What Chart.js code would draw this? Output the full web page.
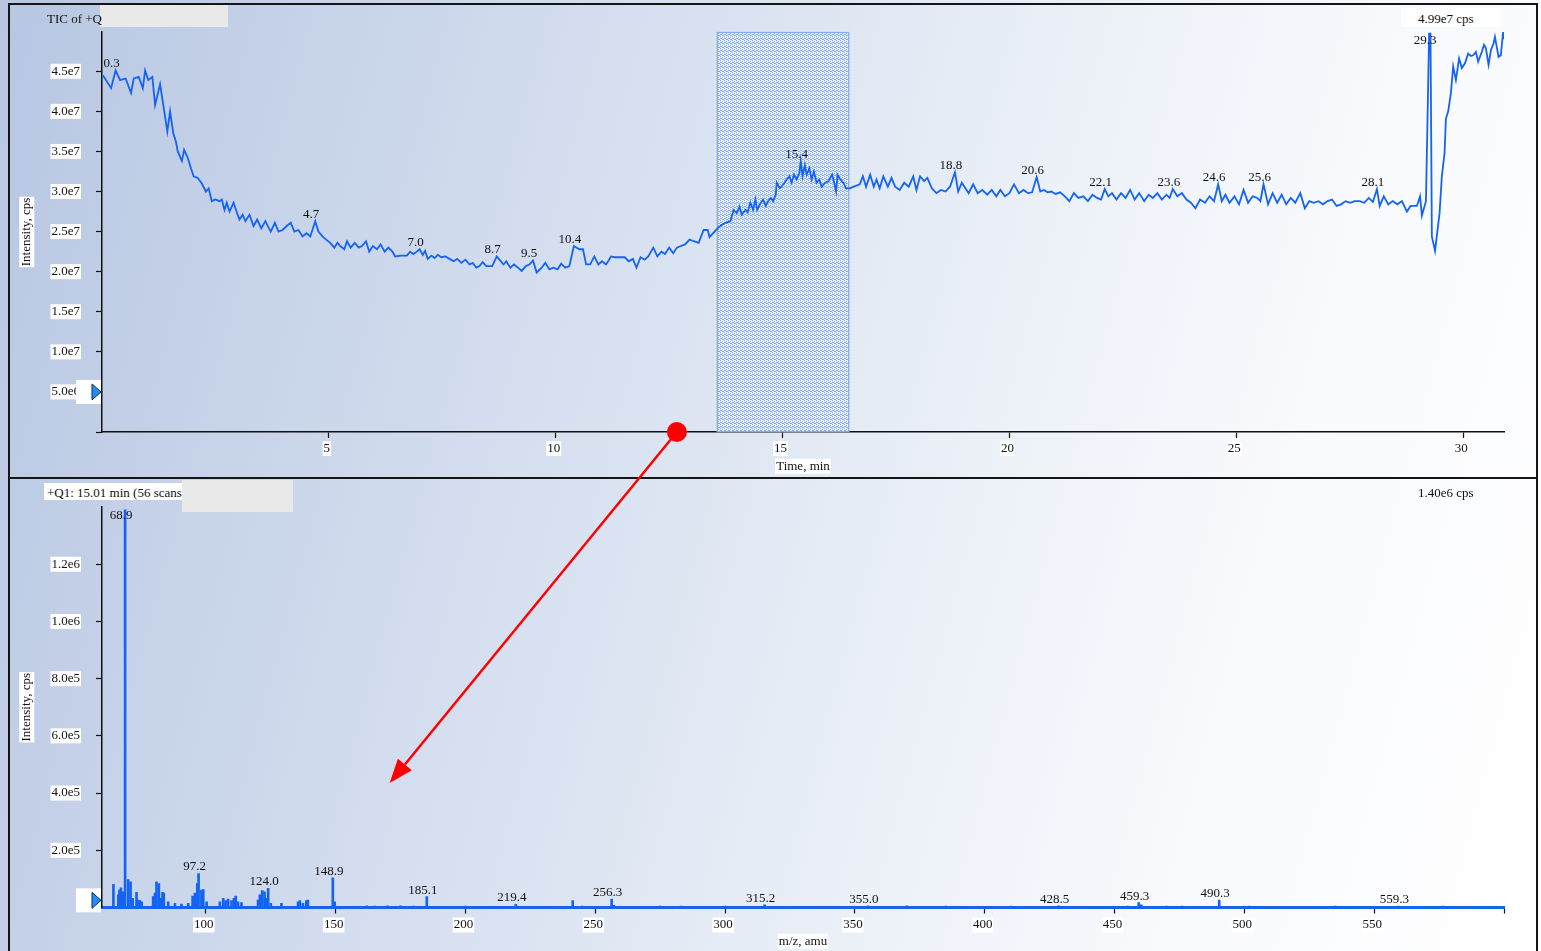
<!DOCTYPE html>
<html><head><meta charset="utf-8">
<script src="https://cdn.jsdelivr.net/npm/chart.js@4.4.1/dist/chart.umd.min.js"></script>
<style>
html,body{margin:0;padding:0;width:1541px;height:951px;overflow:hidden;}
body{position:relative;background:linear-gradient(105deg,#b7c6e1 0%,#c8d4ea 20%,#dae3f1 42%,#ecf1f8 62%,#f9fafd 80%,#ffffff 100%);font-family:"Liberation Serif",serif;}
canvas{position:absolute;left:0;}
#c1{top:0;}
#c2{top:478px;}
#ov{top:0;z-index:6;pointer-events:none;}
.ln{position:absolute;background:#151515;z-index:5;}
.txt{position:absolute;font:13px "Liberation Serif",serif;color:#111;line-height:15px;white-space:nowrap;z-index:4;}
.box{position:absolute;z-index:3;}
</style></head><body>
<canvas id="c1" width="1541" height="478"></canvas>
<canvas id="c2" width="1541" height="473"></canvas>
<canvas id="ov" width="1541" height="951"></canvas>

<div class="ln" style="left:8px;top:3px;width:1530px;height:2px"></div>
<div class="ln" style="left:8px;top:3px;width:2px;height:948px"></div>
<div class="ln" style="left:8px;top:477px;width:1530px;height:2px"></div>
<div class="ln" style="left:1536px;top:3px;width:2px;height:948px"></div>

<div class="txt" style="left:47px;top:11px">TIC of +Q</div>
<div class="box" style="left:100px;top:5px;width:128px;height:22px;background:#e9e9e9"></div>
<div class="box" style="left:1401px;top:8px;width:100px;height:19px;background:#fff"></div>
<div class="txt" style="left:1418px;top:11px">4.99e7 cps</div>

<div class="box" style="left:44px;top:483px;width:138px;height:17px;background:#fff"></div>
<div class="txt" style="left:47px;top:485px">+Q1: 15.01 min (56 scans</div>
<div class="box" style="left:182px;top:480px;width:111px;height:32px;background:#e9e9e9"></div>
<div class="txt" style="left:1418px;top:485px">1.40e6 cps</div>

<script>
// ---------------- TIC chromatogram (top) ----------------
const TIC_UNIT = 1e6; // intensities below are in 1e6 cps
const ticTime = [
0.02,0.20,0.30,0.40,0.52,0.64,0.70,0.81,0.90,0.95,1.02,1.11,1.17,1.28,1.35,1.44,1.50,1.57,1.63,1.67,
1.76,1.81,1.89,1.96,2.02,2.11,2.20,2.29,2.35,2.42,2.50,2.59,2.64,2.70,2.75,2.81,2.90,2.99,3.03,3.10,
3.16,3.25,3.34,3.42,3.51,3.60,3.68,3.72,3.81,3.89,3.98,4.07,4.16,4.24,4.33,4.42,4.51,4.59,4.70,4.77,
4.86,4.94,5.03,5.12,5.19,5.25,5.34,5.40,5.48,5.57,5.66,5.73,5.82,5.89,5.97,6.06,6.14,6.23,6.31,6.40,
6.46,6.59,6.72,6.79,6.86,6.94,7.00,7.07,7.12,7.18,7.26,7.33,7.40,7.48,7.57,7.66,7.75,7.83,7.92,8.01,
8.10,8.17,8.25,8.32,8.39,8.47,8.60,8.70,8.76,8.85,8.91,9.00,9.08,9.17,9.25,9.34,9.42,9.50,9.58,9.69,
9.77,9.86,9.95,10.04,10.12,10.21,10.30,10.40,10.52,10.60,10.67,10.76,10.85,10.94,11.02,11.11,11.22,11.30,11.43,11.52,
11.61,11.70,11.78,11.87,11.96,12.04,12.15,12.24,12.33,12.41,12.50,12.59,12.67,12.76,12.85,12.95,13.04,13.15,13.26,13.35,
13.39,13.50,13.58,13.65,13.74,13.85,13.92,13.99,14.05,14.10,14.18,14.23,14.29,14.35,14.40,14.44,14.50,14.57,14.63,14.68,
14.74,14.79,14.85,14.87,14.94,15.02,15.09,15.15,15.20,15.25,15.31,15.37,15.40,15.44,15.49,15.53,15.59,15.64,15.69,15.75,
15.81,15.86,15.94,16.01,16.09,16.12,16.18,16.21,16.27,16.34,16.40,16.48,16.57,16.70,16.77,16.84,16.93,17.01,17.07,17.14,
17.22,17.32,17.40,17.48,17.58,17.68,17.78,17.88,17.95,18.03,18.12,18.19,18.29,18.39,18.49,18.59,18.69,18.80,18.87,18.95,
19.03,19.10,19.20,19.30,19.40,19.51,19.61,19.71,19.80,19.90,20.00,20.10,20.21,20.31,20.41,20.50,20.60,20.68,20.76,20.84,
20.92,21.02,21.12,21.22,21.32,21.42,21.52,21.63,21.73,21.83,21.93,22.02,22.10,22.18,22.26,22.36,22.46,22.56,22.66,22.76,
22.86,22.97,23.07,23.16,23.26,23.36,23.46,23.53,23.60,23.70,23.80,23.90,24.00,24.10,24.20,24.31,24.41,24.51,24.60,24.68,
24.76,24.85,24.96,25.06,25.16,25.26,25.36,25.46,25.53,25.60,25.70,25.80,25.90,26.00,26.10,26.20,26.30,26.41,26.51,26.61,
26.71,26.81,26.91,27.01,27.11,27.21,27.31,27.41,27.51,27.61,27.72,27.82,27.92,28.01,28.10,28.16,28.25,28.35,28.45,28.55,
28.65,28.76,28.84,28.98,29.05,29.09,29.18,29.25,29.28,29.31,29.38,29.48,29.53,29.59,29.62,29.67,29.73,29.78,29.84,29.91,
29.97,30.04,30.11,30.17,30.22,30.28,30.33,30.41,30.46,30.50,30.56,30.61,30.67,30.70,30.78,30.83,30.88,30.90
];
const ticIntensity = [
44.5,42.9,45.1,43.9,44.1,42.3,44.1,44.3,42.9,45.1,43.9,44.3,40.8,43.4,40.8,37.5,40.0,37.3,36.2,35.0,
33.8,35.2,34.2,32.9,31.9,31.7,31.0,30.0,30.4,28.8,29.0,28.8,29.0,27.7,28.6,27.5,28.6,27.1,26.5,27.1,
26.3,27.1,25.7,26.5,25.4,26.3,25.4,25.0,26.1,25.0,25.2,25.7,26.1,25.0,25.2,24.4,24.8,24.4,26.3,25.0,
24.4,24.0,23.6,23.0,23.6,23.2,22.8,23.8,23.0,23.6,23.0,23.2,23.8,22.5,23.2,22.8,23.4,22.5,23.0,22.5,
21.9,22.0,22.0,22.5,22.2,22.5,22.8,22.1,22.6,21.6,22.0,21.7,22.1,21.8,21.9,21.6,21.3,21.6,21.1,21.5,
20.9,21.1,20.5,20.7,21.2,20.7,20.7,21.9,21.5,20.9,21.3,20.5,20.9,20.5,20.1,20.7,20.9,21.4,19.9,20.5,
21.1,20.3,20.5,20.3,21.0,20.5,20.7,23.2,22.8,22.8,20.9,20.9,21.9,20.9,21.3,20.9,21.9,21.8,21.8,21.8,
21.3,21.6,20.5,21.8,21.5,21.9,23.0,21.9,22.5,22.2,23.0,22.3,23.0,23.2,23.4,24.0,23.8,23.6,25.2,25.2,
24.3,25.0,25.5,25.8,26.1,26.3,27.7,27.3,28.1,27.1,27.7,27.4,28.6,27.7,29.0,27.7,28.4,29.0,28.2,28.8,
29.2,28.8,29.6,31.1,30.4,30.9,31.5,31.9,31.1,32.1,31.5,32.3,33.8,31.9,33.3,32.1,32.9,31.5,32.5,31.1,
31.5,30.6,31.1,31.3,32.1,31.5,30.0,32.1,31.5,31.1,30.4,30.4,30.6,30.9,31.9,30.6,32.1,30.6,31.5,30.4,
31.9,30.6,31.7,30.6,30.2,31.1,30.6,31.9,30.2,31.9,31.3,31.7,30.4,29.8,30.2,30.0,30.6,32.4,30.0,31.1,
30.4,29.8,30.9,29.8,30.2,29.6,30.2,29.4,30.2,29.4,29.8,30.9,29.8,30.2,29.8,29.9,31.8,30.0,30.2,29.9,
30.0,29.7,29.9,29.4,28.8,29.8,29.2,29.4,28.8,29.6,29.2,29.0,30.3,29.4,29.8,29.0,29.8,29.2,30.2,29.0,
29.8,28.8,29.6,29.2,29.8,29.0,29.6,29.2,30.3,29.4,29.8,29.0,28.6,27.9,29.0,28.6,29.4,28.8,30.9,28.8,
29.6,28.6,29.4,28.4,30.2,28.6,29.4,29.2,28.8,30.9,28.4,29.8,28.6,29.6,28.4,29.2,28.6,29.8,27.9,28.8,
28.6,28.8,28.4,28.8,29.0,28.2,28.4,28.8,28.6,28.8,28.8,28.6,29.2,28.7,30.3,28.2,29.4,28.4,28.8,28.4,
28.8,27.5,28.2,28.2,29.4,27.0,28.8,49.7,49.7,24.4,22.6,27.3,31.9,34.8,39.1,40.0,42.3,45.6,43.9,46.6,
45.4,46.0,47.2,46.9,47.0,47.4,46.2,47.4,48.3,47.9,45.8,47.6,48.5,49.3,46.8,47.0,49.9,49.0
];
const ticPeakLabels = [0.3,4.7,7.0,8.7,9.5,10.4,15.4,18.8,20.6,22.1,23.6,24.6,25.6,28.1,29.3];
const timeRange = [0, 30.9];
const timeTicks = [5,10,15,20,25,30];
const ticYRange = [0, 4.99e7];
const ticYTicks = [0,5e6,1e7,1.5e7,2e7,2.5e7,3e7,3.5e7,4e7,4.5e7];
const selectionRange = [13.55, 16.47];
const ticMarkerLevel = [5e6];

// ---------------- Mass spectrum (bottom) ----------------
const specMz = [
64.4,66.3,66.7,67.3,68.0,68.9,70.1,71.0,71.8,73.3,74.0,74.6,75.3,79.7,80.4,81.0,81.9,82.6,83.3,83.8,
85.5,88.1,90.6,93.2,94.9,95.8,96.7,97.2,98.3,99.0,100.3,105.4,106.7,107.6,108.6,109.9,110.8,111.5,112.4,113.7,
120.1,120.8,121.7,122.6,123.3,124.0,125.0,129.1,135.5,136.2,137.4,138.7,139.3,148.9,149.6,162,165,170,175,180,
185.1,190,200,210,219.4,230,241.3,245,256.3,257.2,265,275,283,300.0,315.2,327,355.0,370,385,395,
410,428.5,449,455,459.3,460.3,470,476,490.3,502,515,535,559.3,576.5
];
const specIntensity = [
81e3,44e3,61e3,69e3,55e3,1.39e6,98e3,90e3,32e3,53e3,26e3,24e3,20e3,38e3,50e3,90e3,84e3,32e3,53e3,50e3,
20e3,15e3,12e3,15e3,40e3,50e3,84e3,119e3,61e3,63e3,20e3,20e3,32e3,24e3,29e3,24e3,32e3,40e3,20e3,17e3,
26e3,44e3,59e3,55e3,32e3,67e3,15e3,15e3,20e3,24e3,15e3,24e3,26e3,104e3,20e3,6e3,5e3,6e3,6e3,5e3,
38e3,4e3,5e3,4e3,11e3,4e3,24e3,5e3,29e3,8e3,4e3,5e3,5e3,5e3,9e3,4e3,6e3,6e3,5e3,4e3,
5e3,6e3,4e3,5e3,17e3,9e3,5e3,5e3,26e3,5e3,4e3,5e3,5e3,5e3
];
const specPeakLabels = [68.9,97.2,124.0,148.9,185.1,219.4,256.3,315.2,355.0,428.5,459.3,490.3,559.3];
const mzRange = [60, 600];
const mzTicks = [100,150,200,250,300,350,400,450,500,550,600];
const specYRange = [0, 1.40e6];
const specYTicks = [2e5,4e5,6e5,8e5,1e6,1.2e6];
const specMarkerLevel = [2.5e4];

// red arrow: from a time on the TIC axis to a point in the spectrum
const arrowFrom = [12.67, 0];       // [min, cps] on TIC
const arrowTo = [170.8, 4.35e5];    // [m/z, cps] on spectrum

// ---------------- drawing ----------------
const INK = '#111';
const LINE_BLUE = '#1463f3';
const FONT = '"Liberation Serif", "Times New Roman", serif';
Chart.defaults.font.family = FONT;
Chart.defaults.color = INK;

function fmtExp(v){ if (v === 0) return ''; return v.toExponential(1).replace('e+','e'); }

function makePattern(){
  const p = document.createElement('canvas'); p.width = 4; p.height = 4;
  const g = p.getContext('2d');
  g.fillStyle = 'rgba(240,245,255,0.9)'; g.fillRect(0,0,4,4);
  g.fillStyle = 'rgba(110,155,240,0.9)';
  [[0,0],[2,1],[1,2],[3,3],[2,3],[0,2]].forEach(([a,b]) => g.fillRect(a,b,1,1));
  return g.createPattern(p, 'repeat');
}
const selPattern = makePattern();

const selectionPlugin = {
  id: 'selection',
  beforeDatasetsDraw(chart){
    const {ctx, chartArea, scales:{x}} = chart;
    const x0 = x.getPixelForValue(selectionRange[0]), x1 = x.getPixelForValue(selectionRange[1]);
    ctx.save();
    ctx.fillStyle = selPattern;
    ctx.fillRect(x0, chartArea.top, x1 - x0, chartArea.bottom - chartArea.top);
    ctx.strokeStyle = '#86aaf0'; ctx.lineWidth = 1.2;
    ctx.strokeRect(x0 + 0.5, chartArea.top + 0.5, x1 - x0 - 1, chartArea.bottom - chartArea.top - 1);
    ctx.restore();
  }
};

function titleBackdrops(yTitle, yPadTop, xTitle, xPadBottom){
  return {
    id: 'titleBackdrops',
    beforeDraw(chart){
      const {ctx, chartArea, scales:{x, y}} = chart;
      ctx.save();
      ctx.font = '13px ' + FONT;
      ctx.fillStyle = '#fff';
      const lh = 13 * 1.2;
      const wy = ctx.measureText(yTitle).width + 2;
      const cx = y.left + yPadTop + lh / 2;
      const cy = (chartArea.top + chartArea.bottom) / 2;
      ctx.fillRect(cx - 7.5, cy - wy / 2, 15, wy);
      const wx = ctx.measureText(xTitle).width + 2;
      const tx = (chartArea.left + chartArea.right) / 2;
      const ty = x.bottom - xPadBottom - lh / 2;
      ctx.fillRect(tx - wx / 2, ty - 7.5, wx, 15);
      ctx.restore();
    }
  };
}

function markerPlugin(levels){
  return {
    id: 'marker',
    afterDraw(chart){
      const {ctx, chartArea, scales:{y}} = chart;
      levels.forEach(lv => {
        const py = y.getPixelForValue(lv);
        const L = chartArea.left;
        ctx.save();
        ctx.fillStyle = '#fff';
        ctx.fillRect(L - 26, py - 12, 25, 24);
        ctx.beginPath();
        ctx.moveTo(L - 10, py - 8); ctx.lineTo(L - 10, py + 8); ctx.lineTo(L - 1, py); ctx.closePath();
        ctx.fillStyle = '#1f8ef5'; ctx.fill();
        ctx.strokeStyle = '#0c2d63'; ctx.lineWidth = 1; ctx.stroke();
        ctx.restore();
      });
    }
  };
}

function peakLabelPlugin(labels, xs, ys, scaleY, win){
  return {
    id: 'peakLabels',
    afterDatasetsDraw(chart){
      const {ctx, chartArea, scales:{x, y}} = chart;
      ctx.save();
      ctx.font = '13px ' + FONT;
      ctx.fillStyle = INK;
      ctx.textAlign = 'center';
      ctx.textBaseline = 'alphabetic';
      labels.forEach(L => {
        let best = -1;
        for (let i = 0; i < xs.length; i++) {
          if (Math.abs(xs[i] - L) <= win && (best < 0 || ys[i] > ys[best])) best = i;
        }
        if (best < 0) {
          best = 0;
          for (let i = 1; i < xs.length; i++) if (Math.abs(xs[i] - L) < Math.abs(xs[best] - L)) best = i;
        }
        const px = x.getPixelForValue(xs[best]) - 4;
        let py = y.getPixelForValue(ys[best] * scaleY) - 3;
        py = Math.max(py, chartArea.top + 12);
        ctx.fillText(L.toFixed(1), px, py);
      });
      ctx.restore();
    }
  };
}

function axisCommon(extra){
  return Object.assign({
    border: {display: true, color: INK, width: 1.5},
    grid: {drawOnChartArea: false, color: INK, tickLength: 6, tickWidth: 1.2, offset: false},
  }, extra);
}

const tickFont = {size: 13, lineHeight: 1};
const titleFont = {size: 13};

const topChart = new Chart(document.getElementById('c1'), {
  type: 'line',
  data: {datasets: [{
    data: ticTime.map((t, i) => ({x: t, y: ticIntensity[i] * TIC_UNIT})),
    borderColor: LINE_BLUE, borderWidth: 1.8, pointRadius: 0, tension: 0, fill: false
  }]},
  options: {
    responsive: false, animation: false, events: [],
    layout: {padding: {left: 0, top: 32, right: 37, bottom: 0}},
    plugins: {legend: {display: false}, tooltip: {enabled: false}},
    scales: {
      x: axisCommon({
        type: 'linear', min: timeRange[0], max: timeRange[1],
        afterFit: s => { s.height = 46; },
        afterBuildTicks: s => { s.ticks = timeTicks.map(v => ({value: v})); },
        ticks: {color: INK, font: tickFont, padding: 4, labelOffset: -2, maxRotation: 0, autoSkip: false,
                showLabelBackdrop: true, backdropColor: '#fff', backdropPadding: {x: 1, y: 1}},
        title: {display: true, text: 'Time, min', color: INK, font: titleFont, padding: {top: 0, bottom: 4}}
      }),
      y: axisCommon({
        type: 'linear', min: ticYRange[0], max: ticYRange[1],
        afterFit: s => { s.width = 102; },
        afterBuildTicks: s => { s.ticks = ticYTicks.map(v => ({value: v})); },
        ticks: {color: INK, font: tickFont, padding: 16, callback: fmtExp, autoSkip: false,
                showLabelBackdrop: c => !(c.tick && c.tick.value === 0), backdropColor: '#fff', backdropPadding: {x: 1, y: 1}},
        title: {display: true, text: 'Intensity, cps', color: INK, font: titleFont, padding: {top: 19, bottom: 0}}
      })
    }
  },
  plugins: [titleBackdrops('Intensity, cps', 19, 'Time, min', 4), selectionPlugin,
            peakLabelPlugin(ticPeakLabels, ticTime, ticIntensity, TIC_UNIT, 0.06), markerPlugin(ticMarkerLevel)]
});

const botChart = new Chart(document.getElementById('c2'), {
  type: 'bar',
  data: {datasets: [{
    data: specMz.map((m, i) => ({x: m, y: specIntensity[i]})),
    backgroundColor: LINE_BLUE, borderWidth: 0, barThickness: 2, grouped: false
  }]},
  options: {
    responsive: false, animation: false, events: [],
    layout: {padding: {left: 0, top: 29, right: 37, bottom: 0}},
    plugins: {legend: {display: false}, tooltip: {enabled: false}},
    scales: {
      x: axisCommon({
        type: 'linear', min: mzRange[0], max: mzRange[1], offset: false,
        border: {display: true, color: LINE_BLUE, width: 3},
        afterFit: s => { s.height = 43.5; },
        afterBuildTicks: s => { s.ticks = mzTicks.map(v => ({value: v})); },
        ticks: {color: INK, font: tickFont, padding: 5, labelOffset: -2, maxRotation: 0, autoSkip: false,
                callback: v => (v === mzRange[1] ? '' : String(v)),
                showLabelBackdrop: c => !(c.tick && c.tick.value === mzRange[1]), backdropColor: '#fff', backdropPadding: {x: 1, y: 1}},
        title: {display: true, text: 'm/z, amu', color: INK, font: titleFont, padding: {top: 0, bottom: 2}}
      }),
      y: axisCommon({
        type: 'linear', min: specYRange[0], max: specYRange[1],
        afterFit: s => { s.width = 102; },
        afterBuildTicks: s => { s.ticks = specYTicks.map(v => ({value: v})); },
        ticks: {color: INK, font: tickFont, padding: 16, callback: fmtExp, autoSkip: false,
                showLabelBackdrop: true, backdropColor: '#fff', backdropPadding: {x: 1, y: 1}},
        title: {display: true, text: 'Intensity, cps', color: INK, font: titleFont, padding: {top: 19, bottom: 0}}
      })
    }
  },
  plugins: [titleBackdrops('Intensity, cps', 19, 'm/z, amu', 2),
            peakLabelPlugin(specPeakLabels, specMz, specIntensity, 1, 0.35), markerPlugin(specMarkerLevel)]
});

// overlay arrow connecting the two panels
(function drawArrow(){
  const c = document.getElementById('ov').getContext('2d');
  const botTop = 478;
  const x1 = topChart.scales.x.getPixelForValue(arrowFrom[0]);
  const y1 = topChart.scales.y.getPixelForValue(arrowFrom[1]);
  const x2 = botChart.scales.x.getPixelForValue(arrowTo[0]);
  const y2 = botTop + botChart.scales.y.getPixelForValue(arrowTo[1]);
  const ang = Math.atan2(y2 - y1, x2 - x1);
  const headLen = 24, headHalf = 9;
  const bx = x2 - headLen * Math.cos(ang), by = y2 - headLen * Math.sin(ang);
  c.save();
  c.strokeStyle = '#f00'; c.fillStyle = '#f00'; c.lineWidth = 2.5;
  c.beginPath(); c.moveTo(x1, y1); c.lineTo(bx, by); c.stroke();
  c.beginPath();
  c.moveTo(x2, y2);
  c.lineTo(bx + headHalf * Math.sin(ang), by - headHalf * Math.cos(ang));
  c.lineTo(bx - headHalf * Math.sin(ang), by + headHalf * Math.cos(ang));
  c.closePath(); c.fill();
  c.beginPath(); c.arc(x1, y1, 10, 0, Math.PI * 2); c.fill();
  c.restore();
})();
</script>
</body></html>
